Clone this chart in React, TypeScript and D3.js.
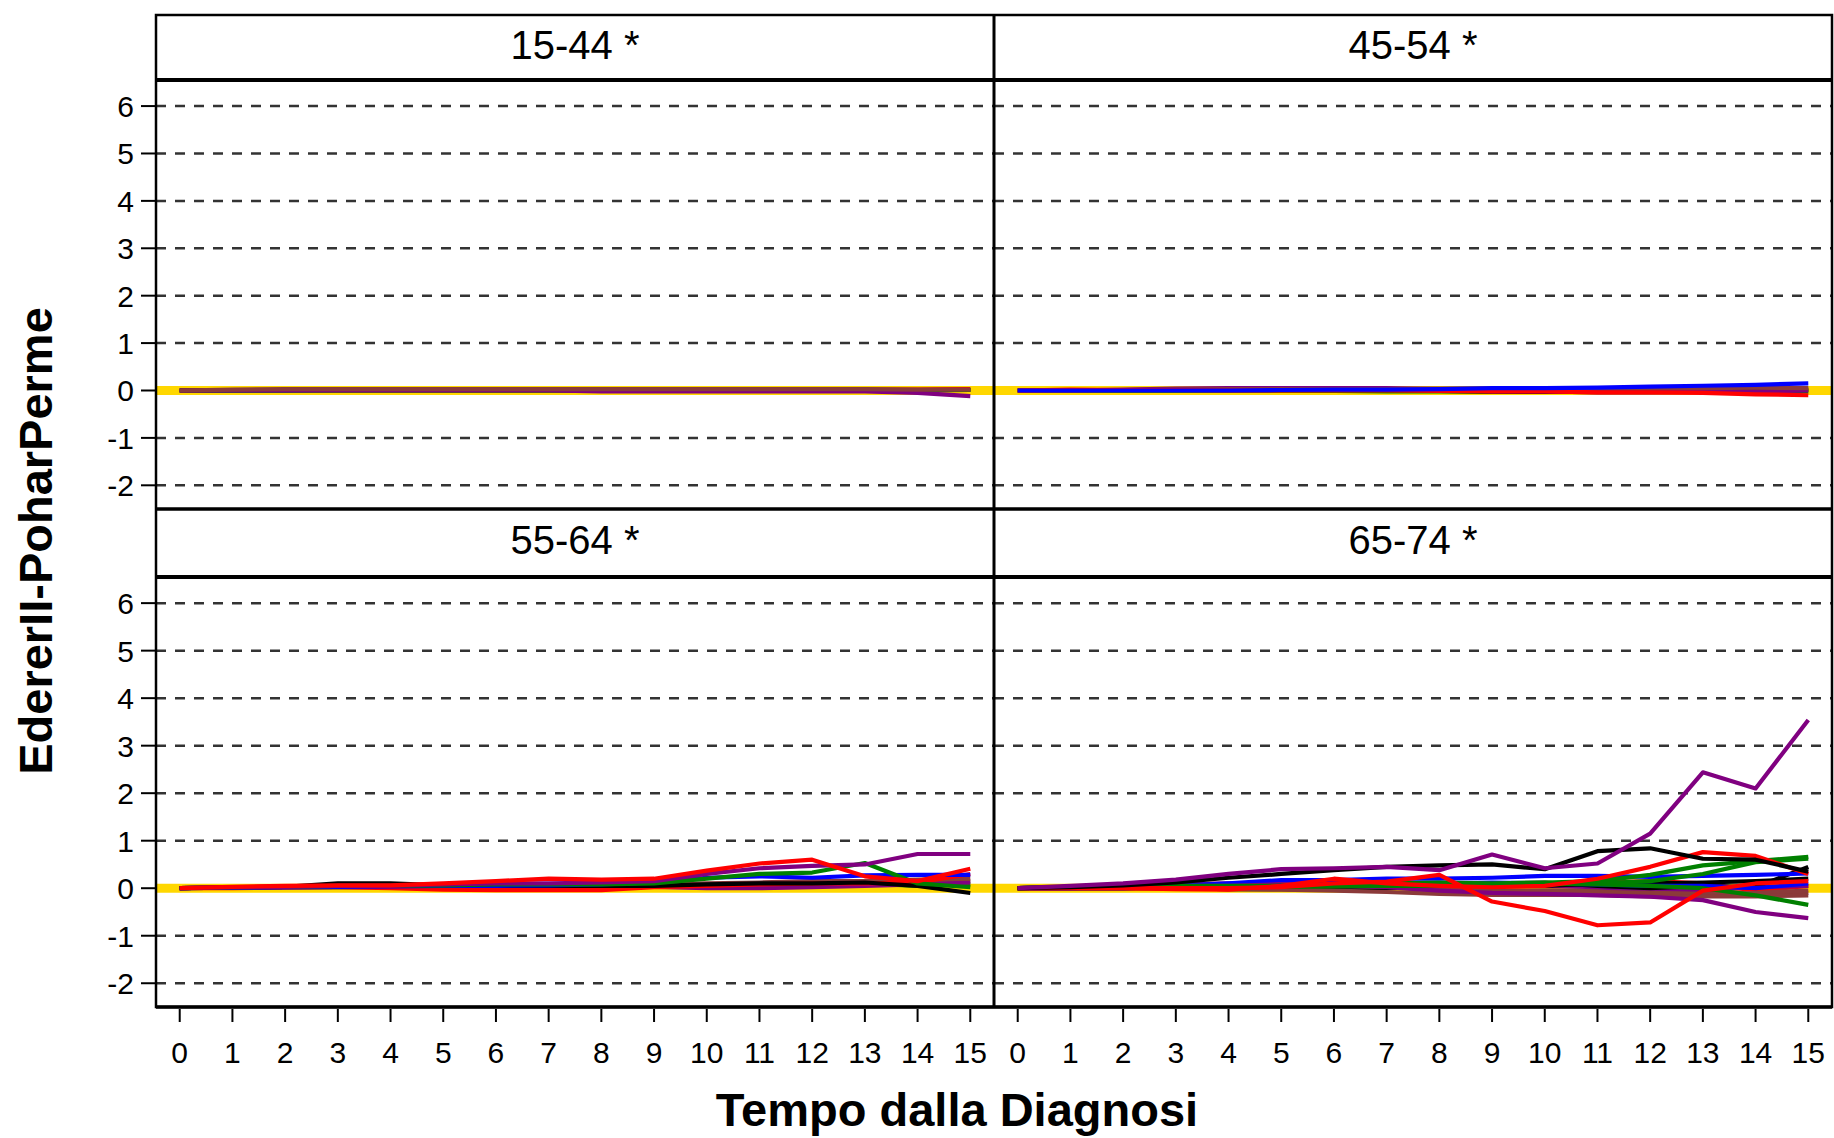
import React from "react";
import * as d3 from "d3";

const years = [0, 1, 2, 3, 4, 5, 6, 7, 8, 9, 10, 11, 12, 13, 14, 15];
const yTicks = [-2, -1, 0, 1, 2, 3, 4, 5, 6];
const xTickLabels = ["0", "1", "2", "3", "4", "5", "6", "7", "8", "9", "10", "11", "12", "13", "14", "15"];
const panelLabels = ["15-44 *", "45-54 *", "55-64 *", "65-74 *"];
const yTitle = "EdererII-PoharPerme";
const xTitle = "Tempo dalla Diagnosi";

const colorMap: Record<string, string> = {
  k: "#000000",
  r: "#FF0000",
  g: "#008000",
  b: "#0000FF",
  p: "#800080",
  n: "#8B3A3A",
};

const series1544 = [
  { c: "k", v: [0, 0, 0, 0, 0, 0, 0, 0, 0, 0, 0, 0, 0, 0, 0, 0.01] },
  { c: "b", v: [0, 0, 0, 0.01, 0.01, 0.01, 0.01, 0.01, 0.01, 0.01, 0.01, 0.01, 0.01, 0.01, 0.01, 0.02] },
  { c: "r", v: [0, 0.01, 0.01, 0.02, 0.02, 0.02, 0.02, 0.02, 0.02, 0.02, 0.02, 0.02, 0.02, 0.02, 0.02, 0.03] },
  { c: "g", v: [0, 0, 0, 0, 0, 0, 0, 0, 0, 0, 0, 0, 0, 0, 0.01, 0.01] },
  { c: "p", v: [0, 0, 0, 0, 0, 0, 0, 0, -0.02, -0.02, -0.02, -0.02, -0.02, -0.02, -0.05, -0.12] },
  { c: "n", v: [0, 0.02, 0.03, 0.03, 0.03, 0.03, 0.03, 0.03, 0.03, 0.03, 0.03, 0.03, 0.03, 0.03, 0.02, 0.02] },
];

const series4554 = [
  { c: "k", v: [0, 0, 0, 0, 0, 0, 0, 0, -0.01, -0.03, -0.03, -0.02, -0.02, -0.01, 0, 0.02] },
  { c: "g", v: [0, 0, 0, 0, 0, 0, -0.01, -0.02, -0.02, -0.02, 0, 0, -0.02, -0.02, -0.03, -0.02] },
  { c: "p", v: [0, 0, 0.02, 0.04, 0.05, 0.05, 0.05, 0.05, 0.03, -0.02, -0.02, -0.04, -0.04, -0.03, -0.02, 0] },
  { c: "n", v: [0, 0, 0.01, 0.02, 0.03, 0.03, 0.03, 0.03, 0.04, 0.04, 0.04, 0.05, 0.05, 0.05, 0.06, 0.05] },
  { c: "r", v: [0, 0.02, 0.01, 0.01, 0, 0, 0, 0, -0.01, -0.02, -0.02, -0.04, -0.04, -0.05, -0.08, -0.1] },
  { c: "b", v: [0, 0, 0, 0, 0, 0.01, 0.02, 0.02, 0.03, 0.05, 0.05, 0.06, 0.08, 0.1, 0.12, 0.15] },
];

const series5564 = [
  { c: "n", v: [0, 0.01, 0.01, 0.02, 0.02, 0.03, 0.03, 0.04, 0.05, 0.06, 0.06, 0.07, 0.08, 0.1, 0.12, 0.15] },
  { c: "g", v: [0, 0.01, 0.02, 0.02, 0.03, 0.03, 0.04, 0.05, 0.05, 0.06, 0.08, 0.1, 0.12, 0.1, 0.05, 0.08] },
  { c: "p", v: [0, 0.02, 0.02, 0.03, 0.03, 0.04, 0.04, 0.04, 0.05, 0.03, 0, 0, 0.02, 0.05, 0.08, 0.12] },
  { c: "n", v: [0, 0.02, 0.03, 0.04, 0.05, 0.06, 0.06, 0.07, 0.08, 0.08, 0.1, 0.12, 0.15, 0.15, 0.18, 0.2] },
  { c: "r", v: [0, 0, 0.02, 0.02, 0, -0.03, -0.04, -0.04, -0.04, 0.02, 0.05, 0.08, 0.1, 0.1, 0.12, 0.3] },
  { c: "k", v: [0, 0.02, 0.03, 0.1, 0.1, 0.06, 0.05, 0.05, 0.05, 0.05, 0.08, 0.1, 0.1, 0.12, 0.05, -0.1] },
  { c: "b", v: [0, 0.01, 0.02, 0.03, 0.04, 0.05, 0.05, 0.06, 0.08, 0.12, 0.22, 0.25, 0.22, 0.27, 0.28, 0.28] },
  { c: "g", v: [0, 0.02, 0.03, 0.05, 0.05, 0.06, 0.08, 0.08, 0.08, 0.1, 0.2, 0.3, 0.33, 0.53, 0.1, 0.02] },
  { c: "p", v: [0, 0.02, 0.03, 0.05, 0.05, 0.08, 0.1, 0.1, 0.12, 0.15, 0.3, 0.42, 0.47, 0.5, 0.72, 0.72] },
  { c: "r", v: [0, 0.03, 0.05, 0.06, 0.06, 0.1, 0.15, 0.2, 0.18, 0.2, 0.37, 0.52, 0.6, 0.25, 0.15, 0.41] },
];

const series6574 = [
  { c: "r", v: [0, 0, 0, 0.01, 0.02, 0.03, 0.03, 0.05, 0.05, 0.08, 0.1, 0.12, 0.15, 0.1, -0.05, 0.05] },
  { c: "n", v: [0, 0.01, 0.02, 0.04, 0.06, 0.05, 0.05, 0.02, -0.05, -0.08, -0.05, -0.05, -0.08, -0.1, -0.15, -0.1] },
  { c: "p", v: [0, 0.03, 0.05, 0.08, 0.1, 0.08, 0.1, 0.12, 0.08, 0.1, 0.05, 0.02, -0.05, -0.05, 0.02, 0.05] },
  { c: "k", v: [0, 0, 0, 0.02, 0.03, 0.05, 0.08, 0.1, 0.1, 0.1, 0.12, 0.05, 0, 0.05, 0.02, 0.45] },
  { c: "k", v: [0, 0, 0, 0, -0.02, -0.02, -0.03, 0, 0.03, 0.05, 0.05, 0.1, 0.1, 0.12, 0.15, 0.2] },
  { c: "n", v: [0, 0.02, 0.03, 0.05, 0.08, 0.08, 0.06, 0.03, 0, -0.05, -0.05, -0.08, -0.1, -0.12, -0.1, -0.05] },
  { c: "n", v: [0, 0, 0, 0, -0.02, -0.03, -0.05, -0.08, -0.12, -0.14, -0.14, -0.14, -0.17, -0.17, -0.17, -0.15] },
  { c: "b", v: [0, 0, 0, 0.02, 0.05, 0.05, 0.08, 0.1, 0.1, 0.12, 0.1, 0.08, 0.05, 0.05, 0, 0.1] },
  { c: "b", v: [0, 0, 0.02, 0.05, 0.1, 0.17, 0.17, 0.2, 0.2, 0.22, 0.26, 0.26, 0.24, 0.26, 0.28, 0.31] },
  { c: "p", v: [0, 0.02, 0.03, 0.05, 0.05, 0.08, 0.05, 0.02, -0.05, -0.1, -0.12, -0.15, -0.18, -0.25, -0.5, -0.63] },
  { c: "g", v: [0, 0.01, 0.02, 0.02, 0.03, 0.03, 0.04, 0.05, 0.05, 0.08, 0.1, 0.08, 0.05, 0, -0.15, -0.35] },
  { c: "g", v: [0, 0.02, 0.02, 0.03, 0.03, 0.05, 0.05, 0.07, 0.1, 0.05, 0.08, 0.1, 0.15, 0.3, 0.55, 0.62] },
  { c: "g", v: [0, 0.03, 0.03, 0.05, 0.05, 0.05, 0.08, 0.1, 0.12, 0.1, 0.12, 0.15, 0.28, 0.48, 0.57, 0.66] },
  { c: "r", v: [0, 0, 0, -0.02, -0.03, 0.05, 0.2, 0.1, 0.05, 0.02, 0.05, 0.2, 0.45, 0.76, 0.68, 0.3] },
  { c: "r", v: [0, 0, 0, 0, 0, 0.02, 0.1, 0.14, 0.28, -0.28, -0.48, -0.78, -0.72, -0.05, 0.1, 0.15] },
  { c: "k", v: [0, 0.02, 0.06, 0.12, 0.22, 0.3, 0.38, 0.45, 0.48, 0.5, 0.4, 0.78, 0.84, 0.62, 0.6, 0.35] },
  { c: "p", v: [0, 0.05, 0.1, 0.18, 0.3, 0.4, 0.42, 0.45, 0.38, 0.71, 0.42, 0.52, 1.15, 2.44, 2.1, 3.54] },
];

const panelSeries = [series1544, series4554, series5564, series6574];

const W = 1834;
const H = 1138;
const FONT = "'Liberation Sans', Arial, Helvetica, sans-serif";

const colEdges = [[156, 994], [994, 1832]];
const rows = [
  { stripTop: 15, stripBottom: 80, bottom: 509 },
  { stripTop: 509, stripBottom: 577, bottom: 1007 },
];

const xDomain = [-0.45, 15.45];
const yDomain = [-2.5, 6.55];

export default function App() {
  const panels = panelLabels.map((label, i) => {
    const col = i % 2;
    const row = Math.floor(i / 2);
    const [x0, x1] = colEdges[col];
    const r = rows[row];
    const x = d3.scaleLinear().domain(xDomain).range([x0, x1]);
    const y = d3.scaleLinear().domain(yDomain).range([r.bottom, r.stripBottom]);
    return { label, col, row, x, y, r, x0, x1, series: panelSeries[i] };
  });

  return (
    <svg
      width={W}
      height={H}
      style={{ position: "absolute", left: 0, top: 0, background: "#fff" }}
      fontFamily={FONT}
    >
      <rect x={0} y={0} width={W} height={H} fill="#fff" />
      {/* gridlines */}
      {panels.map((p, i) => (
        <g key={"grid" + i}>
          {yTicks.map((t) => (
            <line
              key={t}
              x1={p.x0}
              x2={p.x1}
              y1={p.y(t)}
              y2={p.y(t)}
              stroke="#333"
              strokeWidth={2.5}
              strokeDasharray="10 9"
            />
          ))}
        </g>
      ))}
      {/* data */}
      {panels.map((p, i) => {
        const line = d3
          .line<number>()
          .x((_, j) => p.x(years[j]))
          .y((v) => p.y(v));
        return (
          <g key={"data" + i}>
            <line x1={p.x0} x2={p.x1} y1={p.y(0)} y2={p.y(0)} stroke="#FFD700" strokeWidth={9} />
            {p.series.map((s, k) => (
              <path
                key={k}
                d={line(s.v) || ""}
                fill="none"
                stroke={colorMap[s.c]}
                strokeWidth={4.2}
                strokeLinejoin="round"
              />
            ))}
          </g>
        );
      })}
      {/* strips */}
      {panels.map((p, i) => (
        <g key={"strip" + i}>
          <rect x={p.x0} y={p.r.stripTop} width={p.x1 - p.x0} height={p.r.stripBottom - p.r.stripTop} fill="#fff" />
          <text
            x={(p.x0 + p.x1) / 2}
            y={(p.r.stripTop + p.r.stripBottom) / 2 + 11}
            textAnchor="middle"
            fontSize={40}
          >
            {p.label}
          </text>
        </g>
      ))}
      {/* frame */}
      <rect x={156} y={15} width={1832 - 156} height={1007 - 15} fill="none" stroke="#000" strokeWidth={2.5} />
      <line x1={994} x2={994} y1={15} y2={1007} stroke="#000" strokeWidth={3} />
      <line x1={156} x2={1832} y1={80} y2={80} stroke="#000" strokeWidth={4} />
      <line x1={156} x2={1832} y1={509} y2={509} stroke="#000" strokeWidth={3.5} />
      <line x1={156} x2={1832} y1={577} y2={577} stroke="#000" strokeWidth={4} />
      <line x1={156} x2={1832} y1={1007} y2={1007} stroke="#000" strokeWidth={3.5} />
      {/* y axis ticks and labels */}
      {panels
        .filter((p) => p.col === 0)
        .map((p, i) => (
          <g key={"yax" + i}>
            {yTicks.map((t) => (
              <g key={t}>
                <line x1={141} x2={156} y1={p.y(t)} y2={p.y(t)} stroke="#000" strokeWidth={2} />
                <text x={134} y={p.y(t) + 11} textAnchor="end" fontSize={30}>
                  {t}
                </text>
              </g>
            ))}
          </g>
        ))}
      {/* x axis ticks and labels */}
      {panels
        .filter((p) => p.row === 1)
        .map((p, i) => (
          <g key={"xax" + i}>
            {years.map((t, j) => (
              <g key={t}>
                <line x1={p.x(t)} x2={p.x(t)} y1={1009} y2={1022} stroke="#000" strokeWidth={2} />
                <text x={p.x(t)} y={1063} textAnchor="middle" fontSize={30}>
                  {xTickLabels[j]}
                </text>
              </g>
            ))}
          </g>
        ))}
      {/* titles */}
      <text x={957} y={1126} textAnchor="middle" fontSize={47} fontWeight="bold">
        {xTitle}
      </text>
      <text
        transform="translate(52,541) rotate(-90)"
        textAnchor="middle"
        fontSize={47}
        fontWeight="bold"
      >
        {yTitle}
      </text>
    </svg>
  );
}
